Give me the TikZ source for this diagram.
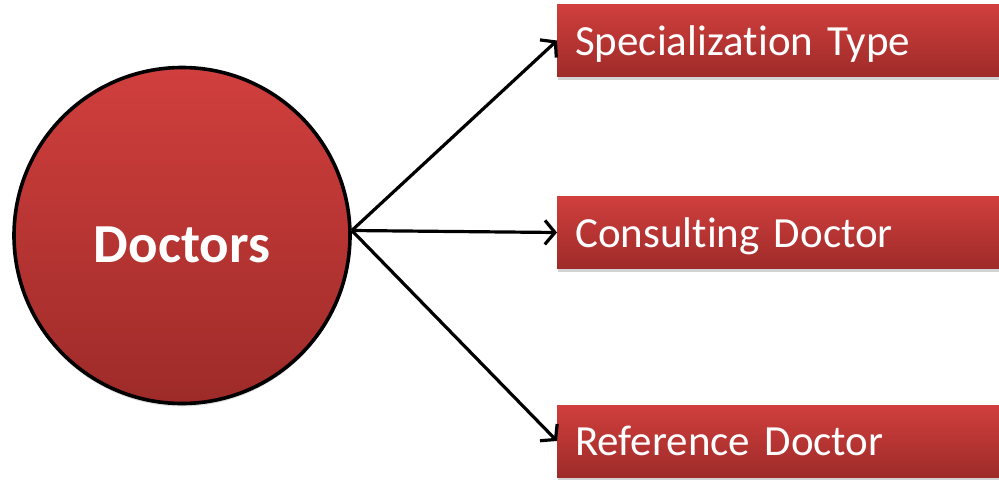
\documentclass[tikz,border=0pt]{standalone}
\usepackage{fontspec}
\setmainfont{Carlito}[Ligatures=NoCommon]
\usepackage{xcolor}
\definecolor{DocRedTop}{HTML}{D03F3D}
\definecolor{DocRedBot}{HTML}{9E2B29}
\usetikzlibrary{arrows.meta}
\usetikzlibrary{shadows}
\usetikzlibrary{positioning}

\begin{document}
\begin{tikzpicture}[x=1pt, y=-1pt,
    link/.style={draw, line width=3.2pt, -{Straight Barb[length=10pt,width=24pt,line width=3.2pt]}},
    redbox/.style={shape=rectangle,
      top color=DocRedTop,
      bottom color=DocRedBot,
      draw=none,
      anchor=west,
      minimum height=72pt,
      text width=414pt,
      text height=29pt,
      text depth=0pt,
      inner xsep=18pt,
      align=left,
      text=white,
      font=\fontsize{43}{50}\selectfont,
      drop shadow={shadow xshift=1pt, shadow yshift=-3pt, opacity=0.35}}]
    \path [use as bounding box] (0,0) rectangle (999,480);

    \node[name=doctors,
      shape=circle,
      minimum size=336pt,
      top color=DocRedTop,
      bottom color=DocRedBot,
      draw=black,
      line width=3.6pt,
      text=white,
      text height=53pt,
      text depth=0pt,
      font=\fontsize{55}{60}\selectfont\bfseries,
      drop shadow={shadow xshift=0pt, shadow yshift=-3pt, opacity=0.25}]
      at (182,235.5) {Doctors};

    \node[name=spec, redbox] at (557,40.5) {Specialization Type};
    \node[name=consult, redbox] at (557,232.5) {Consulting Doctor};
    \node[name=refdoc, redbox] at (557,441) {Reference Doctor};

    \coordinate (hub) at ([yshift=5pt]doctors.east);

    \draw[link] (hub) -- (spec.west);
    \draw[link] (hub) -- (consult.west);
    \draw[link] (hub) -- (refdoc.west);
  \end{tikzpicture}
\end{document}
